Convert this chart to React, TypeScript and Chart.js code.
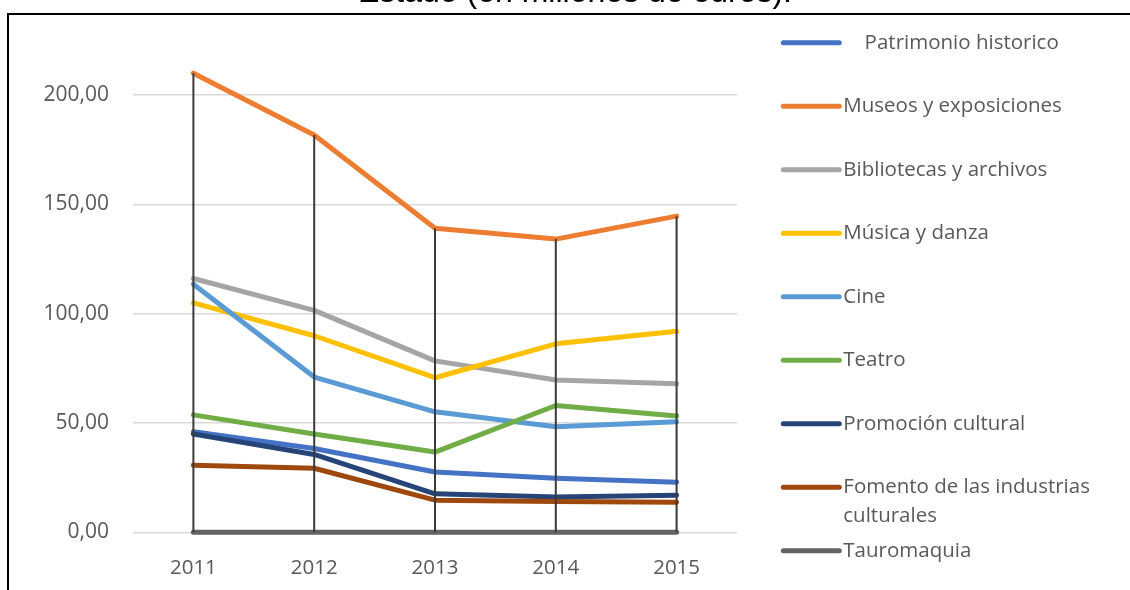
import { useEffect, useRef } from 'react';
import { Chart, registerables } from 'chart.js';

Chart.register(...registerables);

// ---- Data ----
const YEARS = ['2011', '2012', '2013', '2014', '2015'];

const PATRIMONIO = [46.0, 38.3, 27.6, 24.7, 22.9];
const MUSEOS = [210.0, 181.7, 139.1, 134.1, 144.6];
const BIBLIOTECAS = [116.1, 101.5, 78.4, 69.7, 67.9];
const MUSICA = [104.9, 89.9, 70.7, 86.2, 92.0];
const CINE = [113.5, 71.0, 55.1, 48.3, 50.6];
const TEATRO = [53.7, 45.0, 36.7, 58.0, 53.2];
const PROMOCION = [45.0, 35.6, 17.6, 16.2, 17.0];
const FOMENTO = [30.7, 29.3, 14.7, 14.1, 13.7];
const TAUROMAQUIA = [0, 0, 0, 0, 0];

const SERIES_NAMES = [
  '    Patrimonio historico',
  'Museos y exposiciones',
  'Bibliotecas y archivos',
  'Música y danza',
  'Cine',
  'Teatro',
  'Promoción cultural',
  'Fomento de las industrias culturales',
  'Tauromaquia',
];
const SERIES_VALUES = [PATRIMONIO, MUSEOS, BIBLIOTECAS, MUSICA, CINE, TEATRO, PROMOCION, FOMENTO, TAUROMAQUIA];
const SERIES_COLORS = ['#4472C4', '#ED7D31', '#A5A5A5', '#FFC000', '#5B9BD5', '#70AD47', '#264478', '#9E480E', '#636363'];

const Y_MIN = 0;
const Y_MAX = 250;
const Y_STEP = 50;

const TITLE = 'Estado (en millones de euros).';

// ---- Layout ----
const CANVAS_TOP = -60;
const CANVAS_W = 1130;
const CANVAS_H = 650;
const FONT = '"Open Sans", "Noto Sans", sans-serif';
const TEXT_COLOR = '#595959';

export default function App() {
  const ref = useRef<HTMLCanvasElement>(null);

  useEffect(() => {
    const canvas = ref.current;
    if (!canvas) return;

    const dropLines = {
      id: 'dropLines',
      afterDatasetsDraw(chart: any) {
        const ctx = chart.ctx;
        const xs = chart.scales.x;
        const ys = chart.scales.y;
        ctx.save();
        ctx.strokeStyle = '#3a3a3a';
        ctx.lineWidth = 2;
        for (let i = 0; i < YEARS.length; i++) {
          const vals = SERIES_VALUES.map((s) => s[i]);
          const hi = Math.max(...vals);
          const lo = Math.min(...vals);
          const x = xs.getPixelForValue(i);
          ctx.beginPath();
          ctx.moveTo(x, ys.getPixelForValue(hi));
          ctx.lineTo(x, ys.getPixelForValue(lo));
          ctx.stroke();
        }
        ctx.restore();
      },
    };

    const sideLegend = {
      id: 'sideLegend',
      afterDraw(chart: any) {
        const ctx = chart.ctx;
        const x0 = 783.3;
        const x1 = 839.3;
        const tx = 843.3;
        const firstY = 42.7 - CANVAS_TOP;
        const step = 63.5;
        const maxW = 262;
        const lineH = 29;
        ctx.save();
        ctx.font = `20.5px ${FONT}`;
        ctx.textBaseline = 'middle';
        ctx.textAlign = 'left';
        SERIES_NAMES.forEach((name, i) => {
          const y = firstY + i * step;
          ctx.strokeStyle = SERIES_COLORS[i];
          ctx.lineWidth = 5;
          ctx.lineCap = 'round';
          ctx.beginPath();
          ctx.moveTo(x0, y);
          ctx.lineTo(x1, y);
          ctx.stroke();
          const lead = (name.match(/^\s*/) || [''])[0];
          const leadW = lead.length * ctx.measureText(' ').width;
          const body = name.trim();
          const words = body.split(' ');
          const lines: string[] = [];
          let cur = '';
          words.forEach((w) => {
            const test = cur === '' ? w : cur + ' ' + w;
            if (cur !== '' && ctx.measureText(test).width > maxW) {
              lines.push(cur);
              cur = w;
            } else {
              cur = test;
            }
          });
          lines.push(cur);
          ctx.fillStyle = TEXT_COLOR;
          lines.forEach((ln, k) => ctx.fillText(ln, tx + leadW, y + k * lineH));
        });
        ctx.restore();
      },
    };

    const chart = new Chart(canvas, {
      type: 'line',
      data: {
        labels: YEARS,
        datasets: SERIES_VALUES.map((vals, i) => ({
          label: SERIES_NAMES[i].trim(),
          data: vals,
          borderColor: SERIES_COLORS[i],
          backgroundColor: SERIES_COLORS[i],
          borderWidth: 5,
          borderCapStyle: 'round' as const,
          borderJoinStyle: 'round' as const,
          pointRadius: 0,
          tension: 0,
          fill: false,
          clip: false as const,
          order: SERIES_VALUES.length - 1 - i,
        })),
      },
      options: {
        responsive: false,
        animation: false,
        events: [],
        layout: { padding: { left: 0, right: CANVAS_W - 737, top: 45.7, bottom: 0 } },
        plugins: {
          legend: { display: false },
          title: { display: false },
          tooltip: { enabled: false },
        },
        scales: {
          x: {
            type: 'category',
            offset: true,
            grid: { display: false, drawTicks: false },
            border: { display: false },
            ticks: { color: TEXT_COLOR, font: { family: FONT, size: 20.5 }, padding: 24, maxRotation: 0 },
            afterFit(scale: any) {
              scale.height = CANVAS_H - 592.3;
            },
          },
          y: {
            type: 'linear',
            min: Y_MIN,
            max: Y_MAX,
            grid: { color: '#d9d9d9', lineWidth: 1.5, drawTicks: false },
            border: { display: false },
            ticks: {
              stepSize: Y_STEP,
              color: TEXT_COLOR,
              font: { family: FONT, size: 21 },
              padding: 24,
              callback: (v: any) => Number(v).toFixed(2).replace('.', ','),
            },
            afterFit(scale: any) {
              scale.width = 133;
            },
          },
        },
      },
      plugins: [dropLines, sideLegend],
    });
    return () => chart.destroy();
  }, []);

  return (
    <div style={{ position: 'fixed', left: 0, top: 0, width: 1130, height: 590, overflow: 'hidden', background: '#fff' }}>
      <div
        style={{
          position: 'absolute',
          left: 7,
          top: 13,
          width: 1300,
          height: 800,
          border: '2px solid #000',
          boxSizing: 'border-box',
        }}
      />
      <canvas
        ref={ref}
        width={CANVAS_W}
        height={CANVAS_H}
        style={{ position: 'absolute', left: 0, top: CANVAS_TOP, width: CANVAS_W, height: CANVAS_H }}
      />
      <div
        style={{
          position: 'absolute',
          left: 0,
          top: -25,
          width: 1150,
          textAlign: 'center',
          font: '32px "Liberation Sans", Arial, sans-serif',
          lineHeight: '32px',
          color: '#000',
          whiteSpace: 'nowrap',
        }}
      >
        {TITLE}
      </div>
    </div>
  );
}
